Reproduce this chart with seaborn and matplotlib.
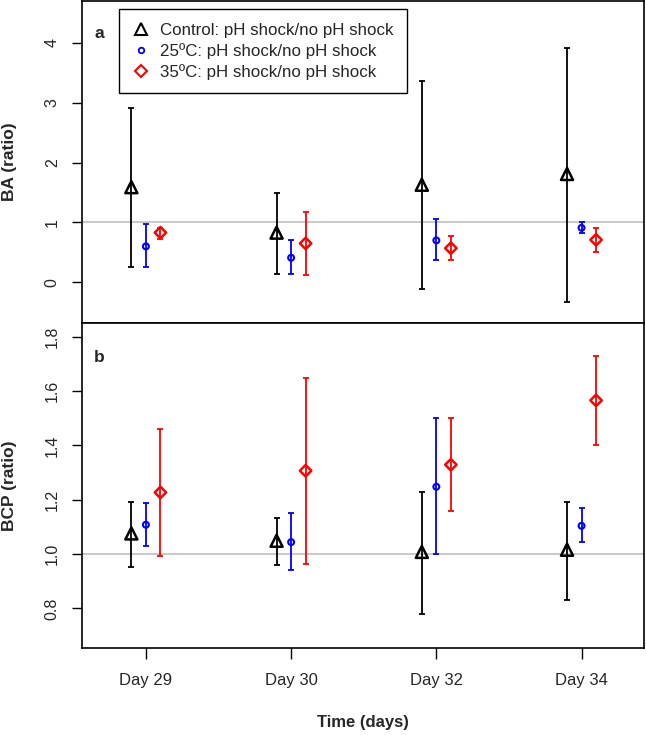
import numpy as np
import matplotlib
matplotlib.use("Agg")
import matplotlib.pyplot as plt
import seaborn as sns
from matplotlib.lines import Line2D

days = ["Day 29", "Day 30", "Day 32", "Day 34"]
groups = ["Control: pH shock/no pH shock",
          "25ºC: pH shock/no pH shock",
          "35ºC: pH shock/no pH shock"]

# panel a: BA ratio (mean, lower, upper)
ba_control = [1.59, 0.83, 1.63, 1.81]
ba_control_lo = [0.25, 0.14, -0.12, -0.33]
ba_control_hi = [2.92, 1.49, 3.36, 3.91]
ba_25 = [0.60, 0.41, 0.70, 0.91]
ba_25_lo = [0.25, 0.14, 0.37, 0.83]
ba_25_hi = [0.98, 0.71, 1.05, 1.01]
ba_35 = [0.83, 0.65, 0.57, 0.71]
ba_35_lo = [0.73, 0.12, 0.37, 0.50]
ba_35_hi = [0.90, 1.18, 0.78, 0.90]

# panel b: BCP ratio (mean, lower, upper)
bcp_control = [1.076, 1.049, 1.008, 1.016]
bcp_control_lo = [0.951, 0.960, 0.779, 0.831]
bcp_control_hi = [1.193, 1.132, 1.229, 1.191]
bcp_25 = [1.108, 1.044, 1.248, 1.104]
bcp_25_lo = [1.031, 0.941, 1.000, 1.045]
bcp_25_hi = [1.189, 1.152, 1.500, 1.168]
bcp_35 = [1.227, 1.307, 1.329, 1.566]
bcp_35_lo = [0.994, 0.963, 1.157, 1.401]
bcp_35_hi = [1.459, 1.650, 1.500, 1.728]

styles = [
    dict(color="black", marker="^", s=75, lw=1.8, offset=-0.1),
    dict(color="blue", marker="o", s=18, lw=1.5, offset=0.0),
    dict(color="red", marker="D", s=34, lw=1.8, offset=0.1),
]

sns.set_style("ticks")
plt.rcParams['font.family'] = ['Liberation Sans', 'DejaVu Sans']

W, H = 646, 735
fig = plt.figure(figsize=(W / 100, H / 100), dpi=100)
ax_a = fig.add_axes([82 / W, 1 - 323 / H, 562 / W, 322 / H])
ax_b = fig.add_axes([82 / W, 1 - 648 / H, 562 / W, 325 / H])


def draw_panel(ax, series):
    ax.axhline(1, color="#c0c0c0", lw=1.2, zorder=0)
    for (mean, lo, hi), st in zip(series, styles):
        mean = np.array(mean)
        x = np.arange(len(days)) + st["offset"]
        ax.errorbar(x, mean, yerr=[mean - np.array(lo), np.array(hi) - mean],
                    fmt="none", ecolor=st["color"], elinewidth=1.3,
                    capsize=2.5, capthick=1.3, zorder=2)
        sns.scatterplot(x=x, y=mean, ax=ax, marker=st["marker"], s=st["s"],
                        facecolor="none", edgecolor=st["color"],
                        linewidth=st["lw"], zorder=3, legend=False)
    ax.set_xlim(-0.44, 3.43)
    for sp in ax.spines.values():
        sp.set_visible(True)
        sp.set_color("black")
        sp.set_linewidth(1.2)
    ax.tick_params(axis="y", length=7, width=1, pad=9, labelsize=11.5,
                   labelrotation=90, color="black")


draw_panel(ax_a, [(ba_control, ba_control_lo, ba_control_hi),
                  (ba_25, ba_25_lo, ba_25_hi),
                  (ba_35, ba_35_lo, ba_35_hi)])
draw_panel(ax_b, [(bcp_control, bcp_control_lo, bcp_control_hi),
                  (bcp_25, bcp_25_lo, bcp_25_hi),
                  (bcp_35, bcp_35_lo, bcp_35_hi)])

ax_a.set_ylim(-0.68, 4.70)
ax_a.set_yticks([0, 1, 2, 3, 4])
ax_a.set_xticks([])
ax_b.set_ylim(0.654, 1.851)
ax_b.set_yticks([0.8, 1.0, 1.2, 1.4, 1.6, 1.8])
ax_b.set_yticklabels(["0.8", "1.0", "1.2", "1.4", "1.6", "1.8"])
for ax in (ax_a, ax_b):
    for lbl in ax.get_yticklabels():
        lbl.set_va("center")
ax_b.set_xticks(range(len(days)))
ax_b.set_xticklabels(days)
ax_b.tick_params(axis="x", length=8, width=1, pad=10, labelsize=12, color="black")

ax_a.set_ylabel("BA (ratio)", fontsize=12.5, fontweight="bold")
ax_a.yaxis.set_label_coords(-0.115, 0.5)
ax_b.set_ylabel("BCP (ratio)", fontsize=12.5, fontweight="bold")
ax_b.yaxis.set_label_coords(-0.115, 0.5)
ax_b.set_xlabel("Time (days)", fontsize=12, fontweight="bold")
ax_b.xaxis.set_label_coords(0.5, -0.205)

ax_a.text(0.030, 0.90, "a", transform=ax_a.transAxes, fontsize=12.5,
          fontweight="bold", ha="center", va="center")
ax_b.text(0.030, 0.895, "b", transform=ax_b.transAxes, fontsize=12.5,
          fontweight="bold", ha="center", va="center")

handles = [Line2D([], [], ls="none", marker="^", ms=9, mfc="none", mec="black", mew=1.5),
           Line2D([], [], ls="none", marker="o", ms=4, mfc="none", mec="blue", mew=1.3),
           Line2D([], [], ls="none", marker="D", ms=6, mfc="none", mec="red", mew=1.5)]
leg = ax_a.legend(handles, groups, loc="upper left", bbox_to_anchor=(0.066, 0.975),
                  fontsize=12.2, frameon=True, fancybox=False, framealpha=1,
                  edgecolor="black", borderaxespad=0, borderpad=0.8,
                  labelspacing=0.3, handlelength=1.0, handletextpad=0.6)
leg.get_frame().set_linewidth(1.0)

fig.savefig("out.png", dpi=100)
